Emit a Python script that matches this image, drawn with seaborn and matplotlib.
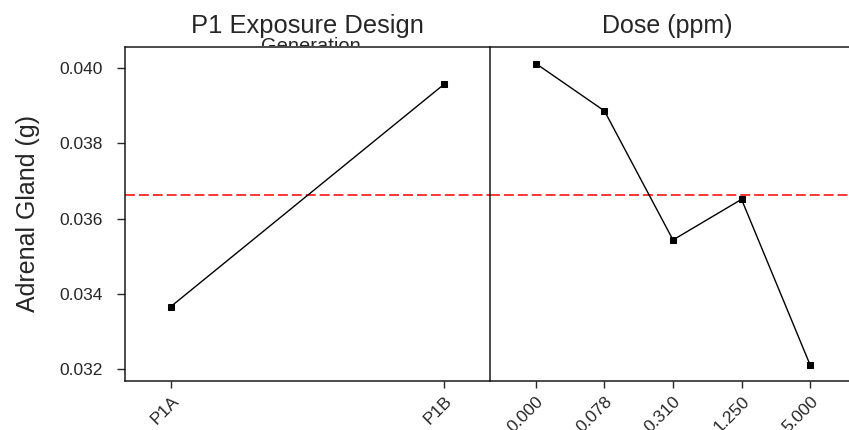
import matplotlib
matplotlib.use("Agg")
import matplotlib.pyplot as plt
from matplotlib.transforms import Bbox, TransformedBbox
import seaborn as sns
import pandas as pd

# Main-effects means of adrenal gland weight
generation = ["P1A", "P1B"]
adrenal_by_generation = [0.03366, 0.03957]

dose = ["0.000", "0.078", "0.310", "1.250", "5.000"]
adrenal_by_dose = [0.04012, 0.03886, 0.03543, 0.03651, 0.03211]

grand_mean = 0.03663

sns.set_style("ticks")
plt.rcParams["font.family"] = ["Liberation Sans", "DejaVu Sans"]
plt.rcParams["axes.edgecolor"] = "#1a1a1a"
plt.rcParams["axes.linewidth"] = 1.1

W, H = 849, 430
fig = plt.figure(figsize=(W / 100, H / 100), dpi=100)

bottom = (H - 381) / H
height = (381 - 47) / H
ax1 = fig.add_axes([125 / W, bottom, (490 - 125) / W, height])
ax2 = fig.add_axes([490 / W, bottom, (856 - 490) / W, height], sharey=ax1)

df_gen = pd.DataFrame({"group": generation, "value": adrenal_by_generation})
df_dose = pd.DataFrame({"group": dose, "value": adrenal_by_dose})

for ax, df in ((ax1, df_gen), (ax2, df_dose)):
    sns.pointplot(data=df, x="group", y="value", ax=ax, color="black",
                  markers="s", markersize=5, linewidth=1.0, errorbar=None)
    ax.axhline(grand_mean, color="#ff0000", linestyle=(0, (6.5, 2.6)),
               linewidth=1.1, zorder=1)
    ax.set_xlabel("")
    ax.set_ylabel("")
    ax.tick_params(axis="x", length=5, width=1, labelsize=12.5,
                   labelrotation=45, pad=4)
    for lbl in ax.get_xticklabels():
        lbl.set_rotation_mode("anchor")
        lbl.set_ha("right")
        lbl.set_va("top")

ax1.set_xlim(-0.168, 1.168)
ax2.set_xlim(-0.67, 4.67)
ax1.set_ylim(0.03168, 0.04056)
ax1.set_yticks([0.032, 0.034, 0.036, 0.038, 0.040])
ax1.set_yticklabels(["0.032", "0.034", "0.036", "0.038", "0.040"])
ax1.tick_params(axis="y", length=6, width=1, labelsize=12.5, pad=10)
ax2.tick_params(axis="y", left=False, labelleft=False)

ax1.spines["right"].set_visible(False)
ax2.spines["right"].set_visible(False)
for ax in (ax1, ax2):
    ax.spines["top"].set_visible(True)
    ax.spines["left"].set_visible(True)

ax1.set_ylabel("Adrenal Gland (g)", fontsize=18, labelpad=14)
ax1.set_title("P1 Exposure Design", fontsize=18.4, pad=10)
ax2.set_title("Dose (ppm)", fontsize=18, pad=10, x=0.485)

# Second line of the factor name, half hidden under the panel frame
gen_txt = fig.text(311 / W, 1 - 52.5 / H, "Generation", fontsize=14.5,
                   ha="center", va="baseline")
gen_txt.set_clip_box(TransformedBbox(Bbox([[0, 1 - 45.5 / H], [1, 1]]),
                                     fig.transFigure))
gen_txt.set_clip_on(True)

fig.savefig("out.png", dpi=100)
